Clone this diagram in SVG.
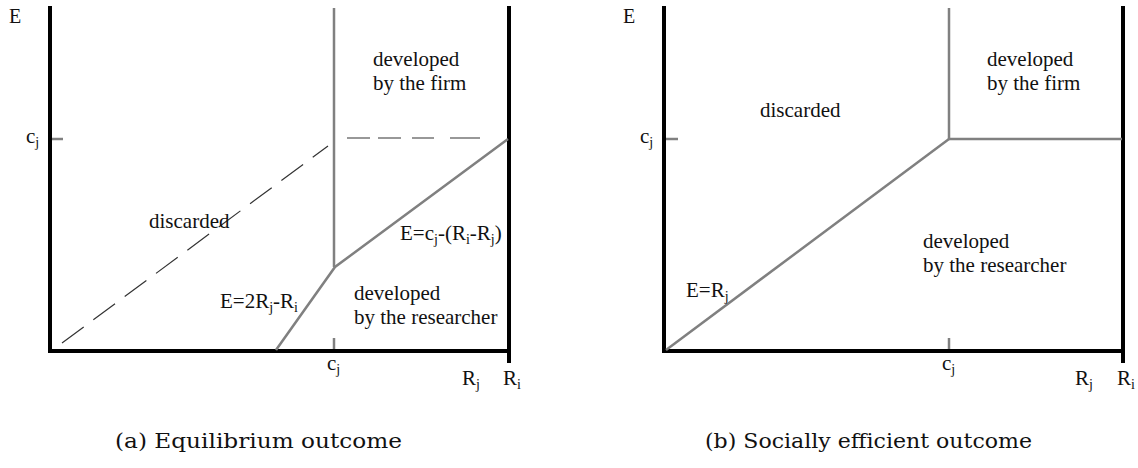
<svg xmlns="http://www.w3.org/2000/svg" width="1138" height="468" viewBox="0 0 1138 468">
<style>
.ax{stroke:#000;stroke-width:4;fill:none;stroke-linecap:square}
.gr{stroke:#808080;stroke-width:2.5;fill:none}
.dash1{stroke:#333;stroke-width:1.2;fill:none;stroke-dasharray:27 12}
.dash2{stroke:#333;stroke-width:1.2;fill:none}
</style>
<g id="panel-a">
  <g id="axes-a">
    <path class="ax" d="M50,8 V351 H509"/>
    <path class="ax" d="M509,8 V361"/>
    <line class="gr" x1="52" y1="139" x2="63" y2="139"/>
    <line class="gr" x1="334" y1="338" x2="334" y2="349"/>
  </g>
  <g id="connectors-a">
    <polyline class="gr" points="334,8 334,267"/>
    <polyline class="gr" points="276,350 335,267 508,139"/>
    <line class="dash1" x1="62" y1="343" x2="328" y2="146"/>
    <path class="dash2" d="M347,138 H370 M378,138 H401 M412,138 H434 M450,138 H480"/>
  </g>
  <g id="labels-a" fill="#111">
    <text font-family="Liberation Serif" font-size="20" x="9" y="23">E</text>
    <text font-family="Liberation Serif" font-size="21" x="26" y="143">c<tspan font-size="14" dy="4">j</tspan></text>
    <text font-family="Liberation Serif" font-size="21" x="327" y="370">c<tspan font-size="14" dy="4">j</tspan></text>
    <text font-family="Liberation Serif" font-size="21" x="462" y="385">R<tspan font-size="14" dy="4">j</tspan></text>
    <text font-family="Liberation Serif" font-size="21" x="503" y="385">R<tspan font-size="14" dy="4">i</tspan></text>
    <g id="node-a-firm"><text font-family="Liberation Serif" font-size="21" x="373" y="66">developed</text><text font-family="Liberation Serif" font-size="21" x="373" y="90">by the firm</text></g>
    <g id="node-a-discarded"><text font-family="Liberation Serif" font-size="21" x="149" y="228">discarded</text></g>
    <g id="node-a-researcher"><text font-family="Liberation Serif" font-size="21" x="354" y="300">developed</text><text font-family="Liberation Serif" font-size="21" x="354" y="324">by the researcher</text></g>
    <g id="label-a-upper"><text font-family="Liberation Serif" font-size="21" x="400" y="240">E=c<tspan font-size="14" dy="4">j</tspan><tspan dy="-4">-(R</tspan><tspan font-size="14" dy="4">i</tspan><tspan dy="-4">-R</tspan><tspan font-size="14" dy="4">j</tspan><tspan dy="-4">)</tspan></text></g>
    <g id="label-a-lower"><text font-family="Liberation Serif" font-size="21" x="220" y="308">E=2R<tspan font-size="14" dy="4">j</tspan><tspan dy="-4">-R</tspan><tspan font-size="14" dy="4">i</tspan></text></g>
  </g>
  <text font-family="DejaVu Serif" font-size="20" fill="#111" x="115" y="448" textLength="287" lengthAdjust="spacingAndGlyphs">(a) Equilibrium outcome</text>
</g>
<g id="panel-b">
  <g id="axes-b">
    <path class="ax" d="M664,8 V351 H1123"/>
    <path class="ax" d="M1123,8 V361"/>
    <line class="gr" x1="666" y1="139" x2="678" y2="139"/>
    <line class="gr" x1="949" y1="338" x2="949" y2="349"/>
  </g>
  <g id="connectors-b">
    <polyline class="gr" points="949,8 949,139 1122,139"/>
    <polyline class="gr" points="666,350 949,139"/>
  </g>
  <g id="labels-b" fill="#111">
    <text font-family="Liberation Serif" font-size="20" x="623" y="23">E</text>
    <text font-family="Liberation Serif" font-size="21" x="640" y="143">c<tspan font-size="14" dy="4">j</tspan></text>
    <text font-family="Liberation Serif" font-size="21" x="942" y="370">c<tspan font-size="14" dy="4">j</tspan></text>
    <text font-family="Liberation Serif" font-size="21" x="1075" y="385">R<tspan font-size="14" dy="4">j</tspan></text>
    <text font-family="Liberation Serif" font-size="21" x="1117" y="385">R<tspan font-size="14" dy="4">i</tspan></text>
    <g id="node-b-firm"><text font-family="Liberation Serif" font-size="21" x="987" y="66">developed</text><text font-family="Liberation Serif" font-size="21" x="987" y="90">by the firm</text></g>
    <g id="node-b-discarded"><text font-family="Liberation Serif" font-size="21" x="760" y="117">discarded</text></g>
    <g id="node-b-researcher"><text font-family="Liberation Serif" font-size="21" x="923" y="248">developed</text><text font-family="Liberation Serif" font-size="21" x="923" y="272">by the researcher</text></g>
    <g id="label-b-line"><text font-family="Liberation Serif" font-size="21" x="686" y="297">E=R<tspan font-size="14" dy="4">j</tspan></text></g>
  </g>
  <text font-family="DejaVu Serif" font-size="20" fill="#111" x="705" y="448" textLength="327" lengthAdjust="spacingAndGlyphs">(b) Socially efficient outcome</text>
</g>
</svg>
